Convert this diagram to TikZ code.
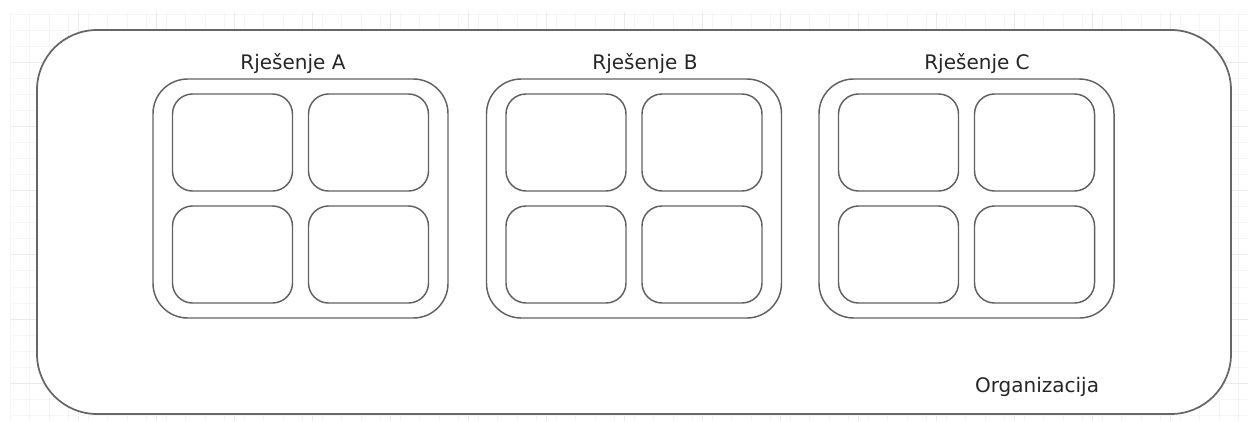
\documentclass[tikz,border=0pt]{standalone}
\usepackage{fontspec}
\setmainfont{DejaVu Sans}
\begin{document}
\begin{tikzpicture}[x=0.75pt,y=-0.75pt,
  minorgrid/.style={draw=black!4,line width=0.5pt},
  majorgrid/.style={draw=black!8,line width=0.6pt},
  orgbox/.style={draw=black!60,line width=1.3pt,rounded corners=45pt,
    minimum width=895.5pt,minimum height=288pt,inner sep=0pt},
  groupbox/.style={draw=black!62,line width=1.1pt,rounded corners=26pt,
    minimum width=221.25pt,minimum height=179.25pt,inner sep=0pt},
  cellbox/.style={draw=black!62,line width=1.1pt,rounded corners=15pt,
    minimum width=90pt,minimum height=72.75pt,inner sep=0pt},
  lbl/.style={font=\fontsize{15}{18}\selectfont,text=black!85,inner sep=0pt}]
\path[use as bounding box] (0,0) rectangle (1248,421);
% background grid
\foreach \k in {0,...,63} {\draw[minorgrid] ({10+\k*19.5},12) -- ({10+\k*19.5},421);}
\foreach \k in {0,...,25} {\draw[minorgrid] (10,{14+\k*16.05}) -- (1248,{14+\k*16.05});}
\foreach \k in {1,...,16} {\draw[majorgrid] ({\k*78},12) -- ({\k*78},421);}
\foreach \k in {1,...,6} {\draw[majorgrid] (10,{-2+\k*64.2}) -- (1248,{-2+\k*64.2});}
% organization
\node[orgbox,fill=white] (org) at (634,222) {};
\node[lbl] (orglbl) at (1037,387) {Organizacija};
% groups
\foreach \name/\cx/\lx/\t in {A/300.5/293/A, B/634/645/B, C/966.5/977/C} {
  \node[groupbox] (g\name) at (\cx,198.5) {};
  \node[lbl] (l\name) at (\lx,64) {Rješenje \t};
  \node[cellbox] (\name11) at ({\cx-68},142.5) {};
  \node[cellbox] (\name12) at ({\cx+68},142.5) {};
  \node[cellbox] (\name21) at ({\cx-68},254.5) {};
  \node[cellbox] (\name22) at ({\cx+68},254.5) {};
}
\end{tikzpicture}
\end{document}
